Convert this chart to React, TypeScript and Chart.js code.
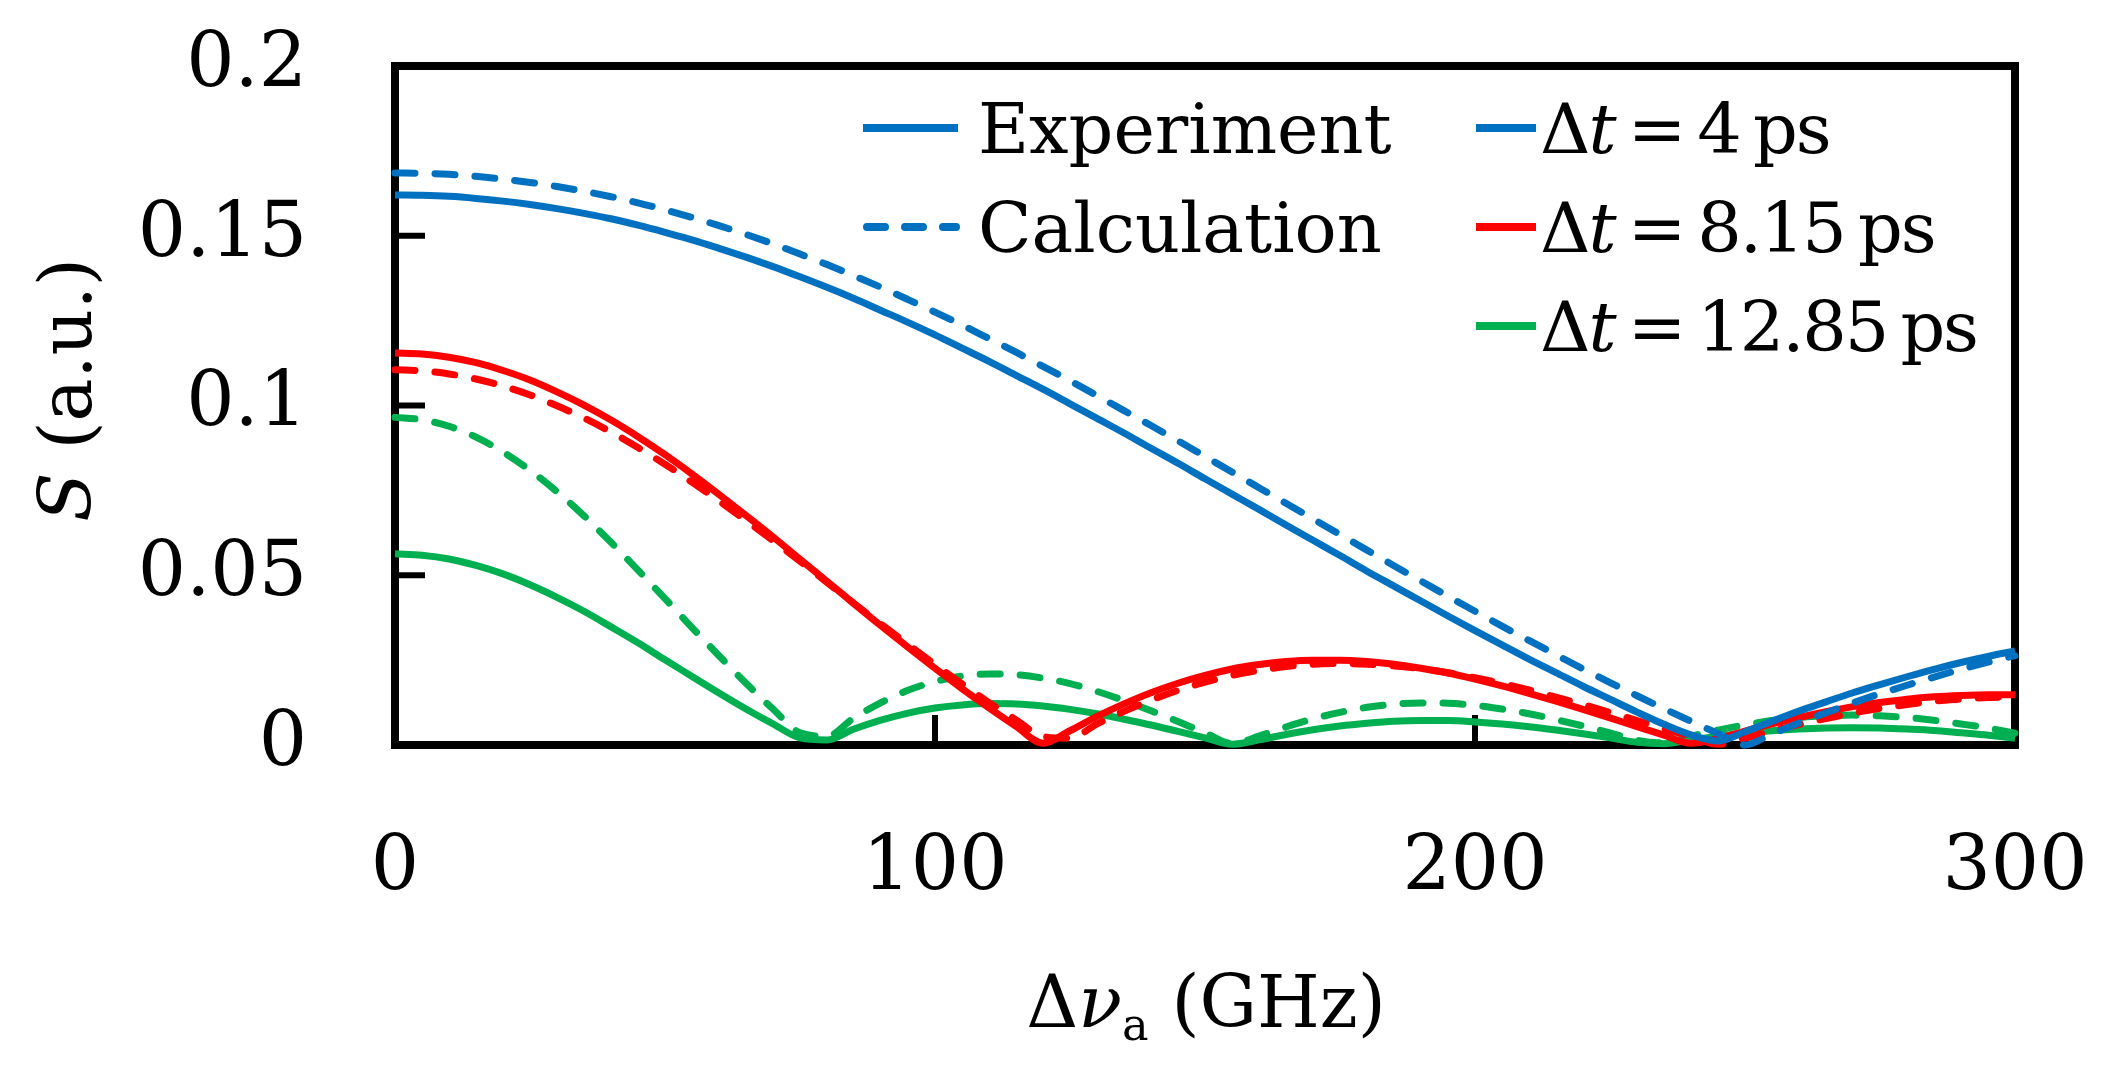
import { useEffect, useRef } from 'react';
import { Chart, registerables } from 'chart.js';

Chart.register(...registerables);

// frequency offset (GHz), shared by every series
const freqs = [
  0, 5, 10, 15, 20, 25, 30, 35, 40, 45,
  50, 55, 60, 65, 70, 75, 80, 85, 90, 95,
  100, 105, 110, 115, 120, 125, 130, 135, 140, 145,
  150, 155, 160, 165, 170, 175, 180, 185, 190, 195,
  200, 205, 210, 215, 220, 225, 230, 235, 240, 245,
  250, 255, 260, 265, 270, 275, 280, 285, 290, 295,
  300,
];

// Δt = 4 ps
const exp4 = [
  0.1620, 0.1619, 0.1616, 0.1610, 0.1602, 0.1592, 0.1580, 0.1566, 0.1550, 0.1531,
  0.1510, 0.1488, 0.1463, 0.1437, 0.1409, 0.1379, 0.1348, 0.1315, 0.1280, 0.1245,
  0.1208, 0.1169, 0.1130, 0.1089, 0.1048, 0.1005, 0.0962, 0.0919, 0.0874, 0.0830,
  0.0784, 0.0739, 0.0694, 0.0648, 0.0603, 0.0558, 0.0512, 0.0468, 0.0424, 0.0380,
  0.0337, 0.0295, 0.0253, 0.0213, 0.0173, 0.0135, 0.0097, 0.0061, 0.0030, 0.0012,
  0.0039, 0.0070, 0.0100, 0.0127, 0.0154, 0.0178, 0.0201, 0.0223, 0.0243, 0.0261,
  0.0277,
];
const calc4 = [
  0.1685, 0.1684, 0.1681, 0.1675, 0.1667, 0.1657, 0.1645, 0.1631, 0.1615, 0.1597,
  0.1576, 0.1554, 0.1530, 0.1504, 0.1476, 0.1446, 0.1415, 0.1382, 0.1348, 0.1312,
  0.1275, 0.1237, 0.1197, 0.1157, 0.1115, 0.1073, 0.1029, 0.0985, 0.0941, 0.0896,
  0.0850, 0.0804, 0.0758, 0.0712, 0.0666, 0.0620, 0.0574, 0.0528, 0.0483, 0.0438,
  0.0394, 0.0350, 0.0308, 0.0266, 0.0224, 0.0184, 0.0145, 0.0107, 0.0070, 0.0034,
  0.0000, 0.0033, 0.0065, 0.0095, 0.0124, 0.0151, 0.0176, 0.0200, 0.0223, 0.0244,
  0.0263,
];

// Δt = 8.15 ps
const exp815 = [
  0.1155, 0.1152, 0.1142, 0.1126, 0.1103, 0.1075, 0.1040, 0.1001, 0.0957, 0.0908,
  0.0855, 0.0798, 0.0738, 0.0676, 0.0613, 0.0547, 0.0482, 0.0416, 0.0351, 0.0288,
  0.0226, 0.0166, 0.0109, 0.0055, 0.0005, 0.0042, 0.0084, 0.0121, 0.0154, 0.0182,
  0.0205, 0.0224, 0.0237, 0.0246, 0.0250, 0.0250, 0.0246, 0.0238, 0.0226, 0.0212,
  0.0194, 0.0174, 0.0152, 0.0129, 0.0105, 0.0080, 0.0054, 0.0029, 0.0005, 0.0019,
  0.0041, 0.0062, 0.0081, 0.0098, 0.0113, 0.0125, 0.0135, 0.0142, 0.0146, 0.0148,
  0.0148,
];
const calc815 = [
  0.1105, 0.1102, 0.1093, 0.1078, 0.1057, 0.1031, 0.0999, 0.0963, 0.0922, 0.0876,
  0.0827, 0.0774, 0.0719, 0.0661, 0.0602, 0.0541, 0.0479, 0.0417, 0.0356, 0.0296,
  0.0237, 0.0180, 0.0125, 0.0074, 0.0025, 0.0020, 0.0062, 0.0099, 0.0132, 0.0161,
  0.0185, 0.0205, 0.0220, 0.0231, 0.0238, 0.0240, 0.0238, 0.0233, 0.0225, 0.0213,
  0.0198, 0.0181, 0.0162, 0.0141, 0.0119, 0.0096, 0.0072, 0.0048, 0.0025, 0.0002,
  0.0020, 0.0041, 0.0061, 0.0078, 0.0094, 0.0108, 0.0119, 0.0129, 0.0135, 0.0140,
  0.0142,
];

// Δt = 12.85 ps
const exp1285 = [
  0.0563, 0.0559, 0.0548, 0.0529, 0.0504, 0.0472, 0.0435, 0.0394, 0.0348, 0.0301,
  0.0251, 0.0202, 0.0153, 0.0106, 0.0062, 0.0021, 0.0015, 0.0047, 0.0073, 0.0094,
  0.0109, 0.0118, 0.0122, 0.0121, 0.0115, 0.0105, 0.0092, 0.0076, 0.0059, 0.0040,
  0.0021, 0.0002, 0.0015, 0.0031, 0.0045, 0.0056, 0.0064, 0.0070, 0.0072, 0.0072,
  0.0068, 0.0062, 0.0054, 0.0044, 0.0033, 0.0021, 0.0008, 0.0004, 0.0015, 0.0026,
  0.0035, 0.0042, 0.0047, 0.0050, 0.0051, 0.0050, 0.0047, 0.0043, 0.0036, 0.0029,
  0.0020,
];
const calc1285 = [
  0.0965, 0.0958, 0.0939, 0.0907, 0.0863, 0.0809, 0.0746, 0.0675, 0.0597, 0.0515,
  0.0431, 0.0346, 0.0263, 0.0182, 0.0106, 0.0036, 0.0026, 0.0080, 0.0125, 0.0161,
  0.0187, 0.0203, 0.0209, 0.0207, 0.0197, 0.0181, 0.0158, 0.0131, 0.0101, 0.0069,
  0.0036, 0.0004, 0.0026, 0.0053, 0.0077, 0.0096, 0.0111, 0.0120, 0.0124, 0.0123,
  0.0117, 0.0106, 0.0092, 0.0075, 0.0056, 0.0036, 0.0014, 0.0006, 0.0026, 0.0044,
  0.0059, 0.0072, 0.0081, 0.0086, 0.0088, 0.0086, 0.0081, 0.0073, 0.0062, 0.0050,
  0.0035,
];

const delays = ['4', '8.15', '12.85'];
const colors = ['#0070C0', '#FF0000', '#00B050'];
const yTickLabels = ['0', '0.05', '0.1', '0.15', '0.2'];
const xTickLabels = ['0', '100', '200', '300'];

const W = 2114;
const H = 1078;
const FONT = '"DejaVu Serif", serif';
const DASH = [20, 20];

const toPoints = (ys: number[]) => freqs.map((x, i) => ({ x, y: ys[i] }));

// plot frame and inward ticks, drawn under the curves
const framePlugin = {
  id: 'frame',
  beforeDatasetsDraw(chart: any) {
    const { ctx, chartArea: a, scales } = chart;
    ctx.save();
    ctx.strokeStyle = '#000';
    ctx.lineWidth = 6;
    scales.y.ticks.forEach((t: any) => {
      if (t.value <= scales.y.min || t.value >= scales.y.max) return;
      const y = scales.y.getPixelForValue(t.value);
      ctx.beginPath();
      ctx.moveTo(a.left, y);
      ctx.lineTo(a.left + 30, y);
      ctx.stroke();
    });
    scales.x.ticks.forEach((t: any) => {
      if (t.value <= scales.x.min || t.value >= scales.x.max) return;
      const x = scales.x.getPixelForValue(t.value);
      ctx.beginPath();
      ctx.moveTo(x, a.bottom);
      ctx.lineTo(x, a.bottom - 30);
      ctx.stroke();
    });
    ctx.lineWidth = 8;
    ctx.strokeRect(a.left, a.top, a.right - a.left, a.bottom - a.top);
    ctx.restore();
  },
};

const legendRows = [128, 227, 326];

const LegendText = ({ x, row, children, style }: any) => (
  <div
    style={{
      position: 'absolute',
      left: x,
      top: legendRows[row] - 34,
      fontSize: 70,
      lineHeight: 1,
      whiteSpace: 'nowrap',
      ...style,
    }}
  >
    {children}
  </div>
);

export default function App() {
  const canvasRef = useRef<HTMLCanvasElement>(null);
  const chartRef = useRef<Chart | null>(null);

  useEffect(() => {
    if (!canvasRef.current) return;
    if (chartRef.current) chartRef.current.destroy();

    const series = [
      { data: exp4, color: colors[0], dashed: false },
      { data: calc4, color: colors[0], dashed: true },
      { data: exp815, color: colors[1], dashed: false },
      { data: calc815, color: colors[1], dashed: true },
      { data: exp1285, color: colors[2], dashed: false },
      { data: calc1285, color: colors[2], dashed: true },
    ];

    chartRef.current = new Chart(canvasRef.current, {
      type: 'line',
      data: {
        datasets: series.map((s) => ({
          data: toPoints(s.data),
          borderColor: s.color,
          borderWidth: 7,
          borderDash: s.dashed ? DASH : [],
          borderCapStyle: s.dashed ? 'round' : 'butt',
          pointRadius: 0,
          cubicInterpolationMode: 'monotone',
          fill: false,
          clip: false,
        })),
      },
      options: {
        responsive: false,
        animation: false,
        layout: { padding: { left: 0, top: 66, right: 99, bottom: 0 } },
        plugins: { legend: { display: false }, tooltip: { enabled: false } },
        scales: {
          x: {
            type: 'linear',
            min: 0,
            max: 300,
            grid: { display: false, drawTicks: false },
            border: { display: false },
            ticks: {
              stepSize: 100,
              padding: 79,
              color: '#000',
              font: { family: FONT, size: 76 },
              callback: (_v: any, i: number) => xTickLabels[i],
            },
            afterFit: (scale: any) => {
              scale.height = 333;
              scale.paddingLeft = 0;
              scale.paddingRight = 0;
            },
          },
          y: {
            min: 0,
            max: 0.2,
            grid: { display: false, drawTicks: false },
            border: { display: false },
            ticks: {
              stepSize: 0.05,
              padding: 88,
              color: '#000',
              font: { family: FONT, size: 76 },
              callback: (_v: any, i: number) => yTickLabels[i],
            },
            afterFit: (scale: any) => {
              scale.width = 395;
              scale.paddingTop = 0;
              scale.paddingBottom = 0;
            },
          },
        },
      },
      plugins: [framePlugin],
    } as any);

    return () => {
      if (chartRef.current) {
        chartRef.current.destroy();
        chartRef.current = null;
      }
    };
  }, []);

  return (
    <div
      style={{
        position: 'fixed',
        left: 0,
        top: 0,
        width: W,
        height: H,
        background: '#fff',
        fontFamily: FONT,
        color: '#000',
      }}
    >
      <canvas ref={canvasRef} width={W} height={H} style={{ position: 'absolute', left: 0, top: 0 }} />

      {/* legend samples */}
      <svg width={W} height={H} style={{ position: 'absolute', left: 0, top: 0, pointerEvents: 'none' }}>
        <line x1={863} x2={958} y1={legendRows[0]} y2={legendRows[0]} stroke={colors[0]} strokeWidth={8} />
        <line
          x1={867}
          x2={956}
          y1={legendRows[1]}
          y2={legendRows[1]}
          stroke={colors[0]}
          strokeWidth={8}
          strokeDasharray="18 20"
          strokeLinecap="round"
        />
        {delays.map((d, i) => (
          <line key={d} x1={1476} x2={1536} y1={legendRows[i]} y2={legendRows[i]} stroke={colors[i]} strokeWidth={8} />
        ))}
      </svg>

      <LegendText x={978} row={0}>Experiment</LegendText>
      <LegendText x={978} row={1}>Calculation</LegendText>
      {delays.map((d, i) => (
        <LegendText key={d} x={1540} row={i} style={{ wordSpacing: '-0.1em', letterSpacing: '-0.03em' }}>
          Δ<i>t</i> = {d} ps
        </LegendText>
      ))}

      {/* axis titles */}
      <div
        style={{
          position: 'absolute',
          left: 66,
          top: 390,
          fontSize: 72,
          lineHeight: 1,
          whiteSpace: 'nowrap',
          transform: 'translate(-50%, -50%) rotate(-90deg)',
        }}
      >
        <i>S</i> (a.u.)
      </div>
      <div
        style={{
          position: 'absolute',
          left: 1206,
          top: 966,
          fontSize: 72,
          lineHeight: 1,
          whiteSpace: 'nowrap',
          transform: 'translateX(-50%)',
        }}
      >
        Δ<i>ν</i>
        <span style={{ fontSize: '0.62em', verticalAlign: '-0.3em', lineHeight: 0 }}>a</span> (GHz)
      </div>
    </div>
  );
}
